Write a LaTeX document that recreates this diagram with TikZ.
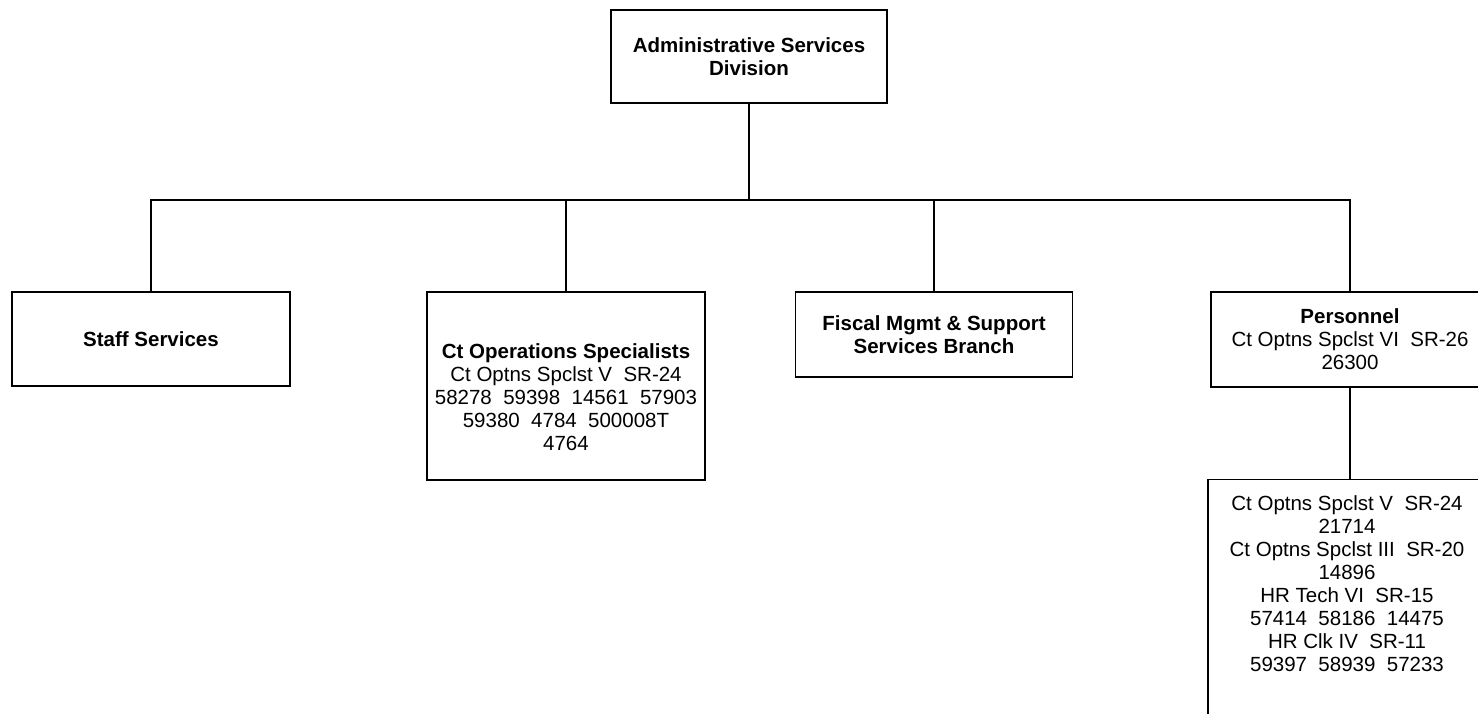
\documentclass[tikz,border=0pt]{standalone}
\usepackage{fontspec}
\setmainfont{Liberation Sans}
\usepackage{tikz}
\newcommand{\orgfont}{\fontsize{20.5pt}{23pt}\selectfont}

\begin{document}
\begin{tikzpicture}[x=1pt, y=-1pt,
			orgbox/.style={rectangle, draw, line width=1.2pt, align=center, minimum width=278pt, inner sep=3pt, font=\orgfont},
			link/.style={line width=1.2pt},
			]
			\useasboundingbox (0,0) rectangle (1478,713);
			\clip (0,0) rectangle (1478,713);
			% Division
			\node[orgbox, minimum width=276pt, minimum height=93pt] (adm) at (749,56.5) {\textbf{Administrative Services}\\\textbf{Division}};
			% Branches
			\node[orgbox, minimum height=94pt] (staff) at (151,339) {\textbf{Staff Services}};
			\node[orgbox, minimum height=188pt] (ctops) at (566,386)
			{\rule{0pt}{38pt}\textbf{Ct Operations Specialists}\\Ct Optns Spclst V\ \ SR-24\\58278\ \ 59398\ \ 14561\ \ 57903\\59380\ \ 4784\ \ 500008T\\4764};
			\node[orgbox, minimum width=277pt, minimum height=85pt] (fiscal) at (934,334.5) {\textbf{Fiscal Mgmt \& Support}\\\textbf{Services Branch}};
			\node[orgbox, minimum height=95pt] (pers) at (1350,339.5) {\textbf{Personnel}\\Ct Optns Spclst VI\ \ SR-26\\26300};
			% Personnel staff
			\node[orgbox, anchor=north] (hr) at (1347,479)
			{\rule{0pt}{27.7pt}Ct Optns Spclst V\ \ SR-24\\21714\\Ct Optns Spclst III\ \ SR-20\\14896\\HR Tech VI\ \ SR-15\\57414\ \ 58186\ \ 14475\\HR Clk IV\ \ SR-11\\59397\ \ 58939\ \ 57233\rule[-80pt]{0pt}{80pt}};
			
			% Tree lines
			\coordinate (bus) at (0,200);
			\draw[link] (adm.south) -- (adm.south |- bus);
			\draw[link] (staff.north) |- (pers.north |- bus) -- (pers.north);
			\draw[link] (ctops.north) -- (ctops.north |- bus);
			\draw[link] (fiscal.north) -- (fiscal.north |- bus);
			\draw[link] (pers.south) -- (pers.south |- hr.north);
		\end{tikzpicture}
\end{document}
